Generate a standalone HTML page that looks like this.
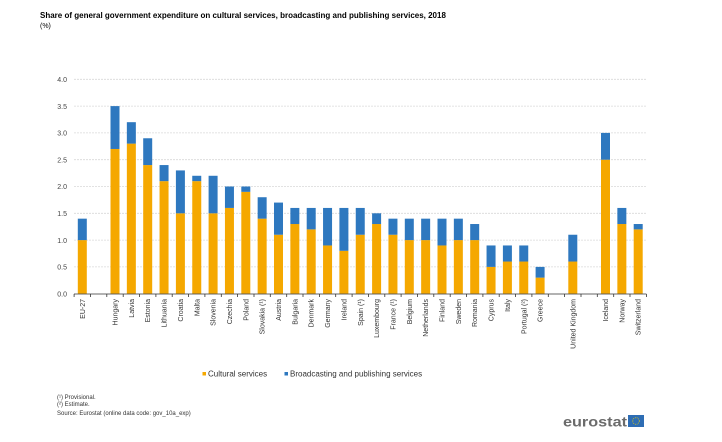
<!DOCTYPE html>
<html><head><meta charset="utf-8"><style>
html,body{margin:0;padding:0;background:#fff;}
svg{display:block;font-family:"Liberation Sans",Arial,sans-serif;}
</style></head><body>
<svg width="722" height="442" viewBox="0 0 722 442" xmlns="http://www.w3.org/2000/svg">
<text x="40" y="18" font-size="8" font-weight="bold" fill="#000">Share of general government expenditure on cultural services, broadcasting and publishing services, 2018</text>
<text x="40" y="28" font-size="7" fill="#000">(%)</text>
<g stroke="#d9d9d9" stroke-width="0.8" stroke-dasharray="2,1">
<line x1="74" x2="646" y1="79.3" y2="79.3"/>
<line x1="74" x2="646" y1="106.1" y2="106.1"/>
<line x1="74" x2="646" y1="132.9" y2="132.9"/>
<line x1="74" x2="646" y1="159.7" y2="159.7"/>
<line x1="74" x2="646" y1="186.5" y2="186.5"/>
<line x1="74" x2="646" y1="213.3" y2="213.3"/>
<line x1="74" x2="646" y1="240.1" y2="240.1"/>
<line x1="74" x2="646" y1="266.9" y2="266.9"/>
</g>
<g font-size="7" fill="#444" text-anchor="end">
<text x="67" y="82">4.0</text><text x="67" y="109">3.5</text><text x="67" y="135.5">3.0</text><text x="67" y="162.5">2.5</text><text x="67" y="189">2.0</text><text x="67" y="216">1.5</text><text x="67" y="243">1.0</text><text x="67" y="269.5">0.5</text><text x="67" y="296.5">0.0</text>
</g>
<g transform="translate(0,293.7) scale(1,-53.6)">
<g fill="#f5a800">
<rect x="77.8" y="0" width="9" height="1.0"/>
<rect x="110.5" y="0" width="9" height="2.7"/>
<rect x="126.85" y="0" width="9" height="2.8"/>
<rect x="143.2" y="0" width="9" height="2.4"/>
<rect x="159.55" y="0" width="9" height="2.1"/>
<rect x="175.9" y="0" width="9" height="1.5"/>
<rect x="192.25" y="0" width="9" height="2.1"/>
<rect x="208.6" y="0" width="9" height="1.5"/>
<rect x="224.95" y="0" width="9" height="1.6"/>
<rect x="241.3" y="0" width="9" height="1.9"/>
<rect x="257.65" y="0" width="9" height="1.4"/>
<rect x="274.0" y="0" width="9" height="1.1"/>
<rect x="290.35" y="0" width="9" height="1.3"/>
<rect x="306.7" y="0" width="9" height="1.2"/>
<rect x="323.05" y="0" width="9" height="0.9"/>
<rect x="339.4" y="0" width="9" height="0.8"/>
<rect x="355.75" y="0" width="9" height="1.1"/>
<rect x="372.1" y="0" width="9" height="1.3"/>
<rect x="388.45" y="0" width="9" height="1.1"/>
<rect x="404.8" y="0" width="9" height="1.0"/>
<rect x="421.15" y="0" width="9" height="1.0"/>
<rect x="437.5" y="0" width="9" height="0.9"/>
<rect x="453.85" y="0" width="9" height="1.0"/>
<rect x="470.2" y="0" width="9" height="1.0"/>
<rect x="486.55" y="0" width="9" height="0.5"/>
<rect x="502.9" y="0" width="9" height="0.6"/>
<rect x="519.25" y="0" width="9" height="0.6"/>
<rect x="535.6" y="0" width="9" height="0.3"/>
<rect x="568.3" y="0" width="9" height="0.6"/>
<rect x="601.0" y="0" width="9" height="2.5"/>
<rect x="617.35" y="0" width="9" height="1.3"/>
<rect x="633.7" y="0" width="9" height="1.2"/>
</g>
<g fill="#2e78bf">
<rect x="77.8" y="1.0" width="9" height="0.4"/>
<rect x="110.5" y="2.7" width="9" height="0.8"/>
<rect x="126.85" y="2.8" width="9" height="0.4"/>
<rect x="143.2" y="2.4" width="9" height="0.5"/>
<rect x="159.55" y="2.1" width="9" height="0.3"/>
<rect x="175.9" y="1.5" width="9" height="0.8"/>
<rect x="192.25" y="2.1" width="9" height="0.1"/>
<rect x="208.6" y="1.5" width="9" height="0.7"/>
<rect x="224.95" y="1.6" width="9" height="0.4"/>
<rect x="241.3" y="1.9" width="9" height="0.1"/>
<rect x="257.65" y="1.4" width="9" height="0.4"/>
<rect x="274.0" y="1.1" width="9" height="0.6"/>
<rect x="290.35" y="1.3" width="9" height="0.3"/>
<rect x="306.7" y="1.2" width="9" height="0.4"/>
<rect x="323.05" y="0.9" width="9" height="0.7"/>
<rect x="339.4" y="0.8" width="9" height="0.8"/>
<rect x="355.75" y="1.1" width="9" height="0.5"/>
<rect x="372.1" y="1.3" width="9" height="0.2"/>
<rect x="388.45" y="1.1" width="9" height="0.3"/>
<rect x="404.8" y="1.0" width="9" height="0.4"/>
<rect x="421.15" y="1.0" width="9" height="0.4"/>
<rect x="437.5" y="0.9" width="9" height="0.5"/>
<rect x="453.85" y="1.0" width="9" height="0.4"/>
<rect x="470.2" y="1.0" width="9" height="0.3"/>
<rect x="486.55" y="0.5" width="9" height="0.4"/>
<rect x="502.9" y="0.6" width="9" height="0.3"/>
<rect x="519.25" y="0.6" width="9" height="0.3"/>
<rect x="535.6" y="0.3" width="9" height="0.2"/>
<rect x="568.3" y="0.6" width="9" height="0.5"/>
<rect x="601.0" y="2.5" width="9" height="0.5"/>
<rect x="617.35" y="1.3" width="9" height="0.3"/>
<rect x="633.7" y="1.2" width="9" height="0.1"/>
</g>
</g>
<line x1="74" x2="646.4" y1="294" y2="294" stroke="#333" stroke-width="0.8"/>
<g stroke="#333" stroke-width="0.8">
<line x1="74.1" x2="74.1" y1="294" y2="297"/><line x1="90.5" x2="90.5" y1="294" y2="297"/><line x1="106.8" x2="106.8" y1="294" y2="297"/><line x1="123.2" x2="123.2" y1="294" y2="297"/><line x1="139.5" x2="139.5" y1="294" y2="297"/><line x1="155.9" x2="155.9" y1="294" y2="297"/><line x1="172.2" x2="172.2" y1="294" y2="297"/><line x1="188.6" x2="188.6" y1="294" y2="297"/><line x1="204.9" x2="204.9" y1="294" y2="297"/><line x1="221.3" x2="221.3" y1="294" y2="297"/><line x1="237.6" x2="237.6" y1="294" y2="297"/><line x1="254.0" x2="254.0" y1="294" y2="297"/><line x1="270.3" x2="270.3" y1="294" y2="297"/><line x1="286.7" x2="286.7" y1="294" y2="297"/><line x1="303.0" x2="303.0" y1="294" y2="297"/><line x1="319.4" x2="319.4" y1="294" y2="297"/><line x1="335.7" x2="335.7" y1="294" y2="297"/><line x1="352.1" x2="352.1" y1="294" y2="297"/><line x1="368.4" x2="368.4" y1="294" y2="297"/><line x1="384.8" x2="384.8" y1="294" y2="297"/><line x1="401.1" x2="401.1" y1="294" y2="297"/><line x1="417.5" x2="417.5" y1="294" y2="297"/><line x1="433.8" x2="433.8" y1="294" y2="297"/><line x1="450.2" x2="450.2" y1="294" y2="297"/><line x1="466.5" x2="466.5" y1="294" y2="297"/><line x1="482.9" x2="482.9" y1="294" y2="297"/><line x1="499.2" x2="499.2" y1="294" y2="297"/><line x1="515.6" x2="515.6" y1="294" y2="297"/><line x1="531.9" x2="531.9" y1="294" y2="297"/><line x1="548.3" x2="548.3" y1="294" y2="297"/><line x1="564.6" x2="564.6" y1="294" y2="297"/><line x1="581.0" x2="581.0" y1="294" y2="297"/><line x1="597.3" x2="597.3" y1="294" y2="297"/><line x1="613.7" x2="613.7" y1="294" y2="297"/><line x1="630.0" x2="630.0" y1="294" y2="297"/><line x1="646.4" x2="646.4" y1="294" y2="297"/>
</g>
<g font-size="7" fill="#333" text-anchor="end">
<text transform="translate(84.8,299) rotate(-90)">EU-27</text>
<text transform="translate(117.5,299) rotate(-90)">Hungary</text>
<text transform="translate(133.9,299) rotate(-90)">Latvia</text>
<text transform="translate(150.2,299) rotate(-90)">Estonia</text>
<text transform="translate(166.6,299) rotate(-90)">Lithuania</text>
<text transform="translate(182.9,299) rotate(-90)">Croatia</text>
<text transform="translate(199.3,299) rotate(-90)">Malta</text>
<text transform="translate(215.6,299) rotate(-90)">Slovenia</text>
<text transform="translate(232.0,299) rotate(-90)">Czechia</text>
<text transform="translate(248.3,299) rotate(-90)">Poland</text>
<text transform="translate(264.7,299) rotate(-90)">Slovakia (¹)</text>
<text transform="translate(281.0,299) rotate(-90)">Austria</text>
<text transform="translate(297.4,299) rotate(-90)">Bulgaria</text>
<text transform="translate(313.7,299) rotate(-90)">Denmark</text>
<text transform="translate(330.1,299) rotate(-90)">Germany</text>
<text transform="translate(346.4,299) rotate(-90)">Ireland</text>
<text transform="translate(362.8,299) rotate(-90)">Spain (¹)</text>
<text transform="translate(379.1,299) rotate(-90)">Luxembourg</text>
<text transform="translate(395.5,299) rotate(-90)">France (¹)</text>
<text transform="translate(411.8,299) rotate(-90)">Belgium</text>
<text transform="translate(428.2,299) rotate(-90)">Netherlands</text>
<text transform="translate(444.5,299) rotate(-90)">Finland</text>
<text transform="translate(460.9,299) rotate(-90)">Sweden</text>
<text transform="translate(477.2,299) rotate(-90)">Romania</text>
<text transform="translate(493.6,299) rotate(-90)">Cyprus</text>
<text transform="translate(509.9,299) rotate(-90)">Italy</text>
<text transform="translate(526.3,299) rotate(-90)">Portugal (²)</text>
<text transform="translate(542.6,299) rotate(-90)">Greece</text>
<text transform="translate(575.3,299) rotate(-90)">United Kingdom</text>
<text transform="translate(608.0,299) rotate(-90)">Iceland</text>
<text transform="translate(624.4,299) rotate(-90)">Norway</text>
<text transform="translate(640.7,299) rotate(-90)">Switzerland</text>
</g>
<rect x="202.5" y="372" width="3.5" height="3.5" fill="#f5a800"/>
<text x="208" y="376.5" font-size="8" fill="#333">Cultural services</text>
<rect x="284.5" y="372" width="3.5" height="3.5" fill="#2e78bf"/>
<text x="290" y="376.5" font-size="8" fill="#333">Broadcasting and publishing services</text>
<g font-size="6" fill="#333">
<text x="57" y="399">(¹) Provisional.</text>
<text x="57" y="406">(²) Estimate.</text>
<text x="57" y="415">Source: Eurostat (online data code: gov_10a_exp)</text>
</g>
<text x="563" y="426.5" font-size="13.5" fill="#6b6b6b" font-weight="bold" textLength="64" lengthAdjust="spacingAndGlyphs">eurostat</text>
<rect x="628" y="415" width="16" height="12" fill="#2e6db4"/>
<circle cx="636" cy="421" r="3.3" fill="none" stroke="#f5d400" stroke-width="0.8" stroke-dasharray="0.8,1"/>
</svg>
</body></html>
